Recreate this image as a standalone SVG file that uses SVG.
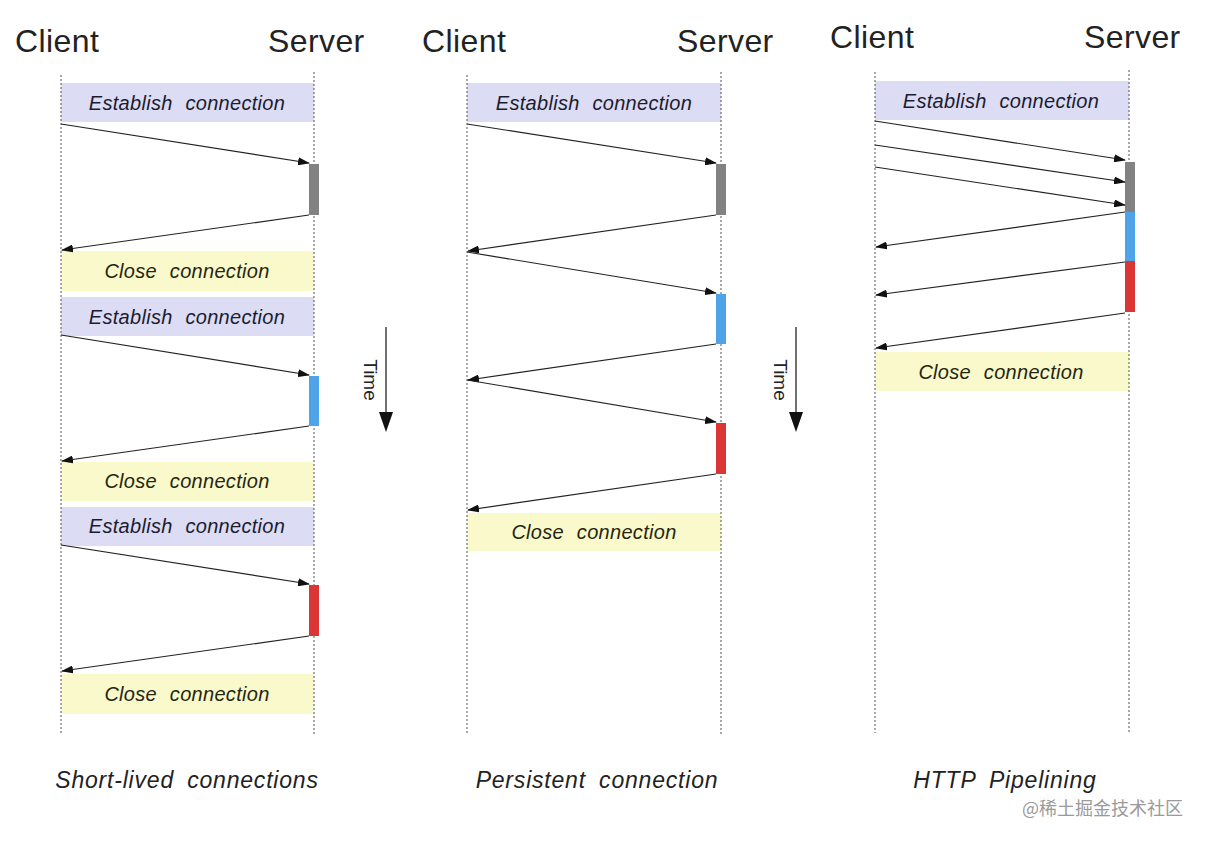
<svg xmlns="http://www.w3.org/2000/svg" width="1207" height="842" viewBox="0 0 1207 842">
<defs>
<marker id="ah" markerWidth="12" markerHeight="8" refX="11" refY="4" orient="auto" markerUnits="userSpaceOnUse">
<path d="M0,0 L12,4 L0,8 Z" fill="#111"/>
</marker>
</defs>
<style>
.hdr{font-family:"Liberation Sans",Arial,sans-serif;font-size:32px;letter-spacing:0.4px;fill:#222}
.lbl{font-family:"Liberation Sans",Arial,sans-serif;font-size:20px;font-style:italic;letter-spacing:0.3px;word-spacing:7px;text-anchor:middle}
.cap{font-family:"Liberation Sans",Arial,sans-serif;font-size:23px;font-style:italic;letter-spacing:0.8px;word-spacing:6px;text-anchor:middle;fill:#222}
.life{stroke:#555;stroke-width:1;stroke-dasharray:2,2;fill:none}
.est{fill:#dcdcf4}
.cls{fill:#f9f9cc}
.msg{stroke:#222;stroke-width:1.2;fill:none;marker-end:url(#ah)}
.et{fill:#1c1c30}
.ct{fill:#262610}
.time{font-family:"Liberation Sans",Arial,sans-serif;font-size:19px;fill:#222;text-anchor:middle}
</style>
<rect width="1207" height="842" fill="#fff"/>

<g id="panel1">
<text class="hdr" x="15" y="52">Client</text>
<text class="hdr" x="268" y="52">Server</text>
<g id="p1-est1"><rect class="est" x="61" y="83" width="253" height="39"/><text class="lbl et" x="187" y="110">Establish connection</text></g>
<g id="p1-cls1"><rect class="cls" x="61" y="251" width="253" height="40"/><text class="lbl ct" x="187" y="278">Close connection</text></g>
<g id="p1-est2"><rect class="est" x="61" y="297" width="253" height="39"/><text class="lbl et" x="187" y="324">Establish connection</text></g>
<g id="p1-cls2"><rect class="cls" x="61" y="462" width="253" height="39"/><text class="lbl ct" x="187" y="488">Close connection</text></g>
<g id="p1-est3"><rect class="est" x="61" y="507" width="253" height="39"/><text class="lbl et" x="187" y="533">Establish connection</text></g>
<g id="p1-cls3"><rect class="cls" x="61" y="674" width="253" height="40"/><text class="lbl ct" x="187" y="701">Close connection</text></g>
<line class="life" x1="61" y1="75" x2="61" y2="735"/>
<line class="life" x1="314" y1="72" x2="314" y2="735"/>
<g id="p1-bars">
<rect x="309" y="164" width="10" height="51" fill="#828282"/>
<rect x="309" y="376" width="10" height="50" fill="#4fa3e8"/>
<rect x="309" y="585" width="10" height="51" fill="#dc3535"/>
</g>
<text class="cap" x="187" y="788">Short-lived connections</text>
</g>

<g id="panel2">
<text class="hdr" x="422" y="52">Client</text>
<text class="hdr" x="677" y="52">Server</text>
<g id="p2-est"><rect class="est" x="467" y="83" width="254" height="39"/><text class="lbl et" x="594" y="110">Establish connection</text></g>
<g id="p2-cls"><rect class="cls" x="467" y="513" width="254" height="38"/><text class="lbl ct" x="594" y="539">Close connection</text></g>
<line class="life" x1="467" y1="75" x2="467" y2="735"/>
<line class="life" x1="721" y1="72" x2="721" y2="735"/>
<g id="p2-bars">
<rect x="716" y="164" width="10" height="51" fill="#828282"/>
<rect x="716" y="294" width="10" height="50" fill="#4fa3e8"/>
<rect x="716" y="423" width="10" height="51" fill="#dc3535"/>
</g>
<text class="cap" x="597" y="788">Persistent connection</text>
</g>

<g id="panel3">
<text class="hdr" x="830" y="48">Client</text>
<text class="hdr" x="1084" y="48">Server</text>
<g id="p3-est"><rect class="est" x="875" y="81" width="254" height="39"/><text class="lbl et" x="1001" y="108">Establish connection</text></g>
<g id="p3-cls"><rect class="cls" x="875" y="352" width="254" height="39"/><text class="lbl ct" x="1001" y="379">Close connection</text></g>
<line class="life" x1="875" y1="72" x2="875" y2="733"/>
<line class="life" x1="1129" y1="70" x2="1129" y2="733"/>
<g id="p3-bars">
<rect x="1125" y="162" width="10" height="50" fill="#828282"/>
<rect x="1125" y="212" width="10" height="49" fill="#4fa3e8"/>
<rect x="1125" y="261" width="10" height="51" fill="#dc3535"/>
</g>
<text class="cap" x="1005" y="788">HTTP Pipelining</text>
</g>

<g id="time1">
<line x1="386" y1="327" x2="386" y2="418" stroke="#111" stroke-width="1.2"/>
<path d="M379,412 L386,432 L393,412 Z" fill="#111"/>
<text class="time" transform="translate(364 380) rotate(90)">Time</text>
</g>
<g id="time2">
<line x1="796" y1="327" x2="796" y2="418" stroke="#111" stroke-width="1.2"/>
<path d="M789,412 L796,432 L803,412 Z" fill="#111"/>
<text class="time" transform="translate(774 380) rotate(90)">Time</text>
</g>

<g id="connectors">
<line class="msg" x1="61" y1="124" x2="309" y2="163"/>
<line class="msg" x1="309" y1="215" x2="62" y2="250"/>
<line class="msg" x1="61" y1="335" x2="309" y2="375"/>
<line class="msg" x1="309" y1="426" x2="62" y2="461"/>
<line class="msg" x1="61" y1="545" x2="309" y2="584"/>
<line class="msg" x1="309" y1="636" x2="62" y2="671"/>

<line class="msg" x1="467" y1="124" x2="716" y2="163"/>
<line class="msg" x1="716" y1="215" x2="468" y2="251"/>
<line class="msg" x1="467" y1="252" x2="716" y2="293"/>
<line class="msg" x1="716" y1="344" x2="468" y2="380"/>
<line class="msg" x1="467" y1="380" x2="716" y2="422"/>
<line class="msg" x1="716" y1="474" x2="468" y2="510"/>

<line class="msg" x1="875" y1="121" x2="1125" y2="160"/>
<line class="msg" x1="875" y1="145" x2="1125" y2="182"/>
<line class="msg" x1="875" y1="167" x2="1125" y2="205"/>
<line class="msg" x1="1125" y1="212" x2="876" y2="247"/>
<line class="msg" x1="1125" y1="262" x2="876" y2="295"/>
<line class="msg" x1="1125" y1="313" x2="876" y2="348"/>
</g>

<text x="1022" y="815" font-family="Noto Sans CJK SC,Liberation Sans,sans-serif" font-size="18" fill="#9a9a9a">@稀土掘金技术社区</text>
</svg>
